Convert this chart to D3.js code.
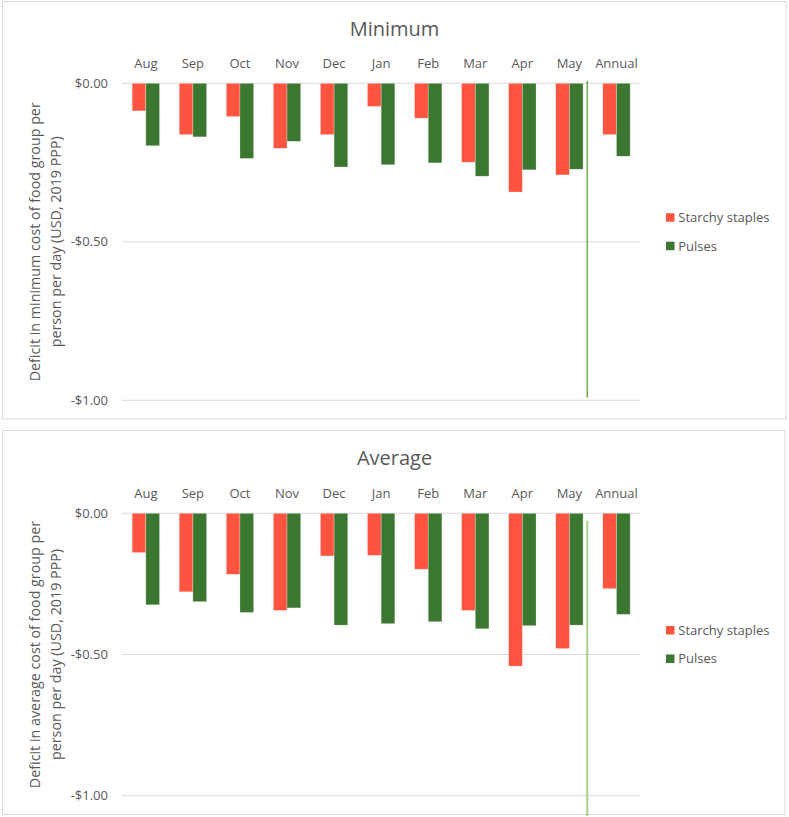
<!DOCTYPE html>
<html><head><meta charset="utf-8">
<script src="https://cdn.jsdelivr.net/npm/d3@7"></script>
<style>
body{margin:0;background:#fff;}
svg{display:block;font-family:"Open Sans",sans-serif;}
</style></head>
<body><svg id="c" width="789" height="817"></svg>
<script>
const months = ["Aug","Sep","Oct","Nov","Dec","Jan","Feb","Mar","Apr","May","Annual"];
const seriesNames = ["Starchy staples","Pulses"];
const minStarchy = [-0.087,-0.162,-0.105,-0.205,-0.162,-0.073,-0.110,-0.249,-0.343,-0.289,-0.162];
const minPulses  = [-0.197,-0.169,-0.237,-0.183,-0.264,-0.257,-0.251,-0.293,-0.273,-0.271,-0.230];
const avgStarchy = [-0.139,-0.278,-0.216,-0.344,-0.151,-0.149,-0.198,-0.344,-0.541,-0.479,-0.267];
const avgPulses  = [-0.324,-0.313,-0.351,-0.335,-0.396,-0.391,-0.384,-0.409,-0.398,-0.396,-0.358];
const yTicks = [0,-0.5,-1];
const separatorAfter = "May";

const colors = ["#FF5540","#3C7731"];
const textColor = "#595959";
const gridColor = "#D9D9D9";

const panels = [
  {title:"Minimum", yTitle:["Deficit in minimum cost of food group per","person per day (USD, 2019 PPP)"],
   data:[minStarchy,minPulses], box:[2.5,1.5,783.5,417.5], titleY:36, catY:68,
   y0:83.3, y1:400.3, legendY:217.5, sepTop:-2.3, sepBottom:397.7, sepColor:"#70AD47", sepW:1.5},
  {title:"Average", yTitle:["Deficit in average cost of food group per","person per day (USD, 2019 PPP)"],
   data:[avgStarchy,avgPulses], box:[2.5,430.5,782.5,384], titleY:465, catY:498,
   y0:513.3, y1:795.7, legendY:630.3, sepTop:7.4, sepBottom:816, sepColor:"#A9D18E", sepW:2}
];

const svg = d3.select("#c");
const fmt = v => (v<0?"-":"") + "$" + d3.format(".2f")(Math.abs(v));

panels.forEach(p => {
  const g = svg.append("g");
  g.append("rect").attr("x",p.box[0]).attr("y",p.box[1]).attr("width",p.box[2]).attr("height",p.box[3])
    .attr("fill","#fff").attr("stroke",gridColor).attr("stroke-width",1);

  const x = d3.scaleBand().domain(months).range([122.3,640]).paddingInner(0).paddingOuter(0);
  const y = d3.scaleLinear().domain([-1,0]).range([p.y1,p.y0]);
  const barW = x.step()*0.291;
  const off = (x.step()-2*barW)/2;

  g.selectAll(".grid").data(yTicks).enter().append("line")
    .attr("x1",x.range()[0]).attr("x2",x.range()[1])
    .attr("y1",d=>y(d)).attr("y2",d=>y(d))
    .attr("stroke",gridColor).attr("stroke-width",1);

  g.selectAll(".tl").data(yTicks).enter().append("text")
    .attr("x",108).attr("y",d=>y(d)).attr("dy","0.35em")
    .attr("text-anchor","end").attr("font-size",13).attr("fill",textColor)
    .text(fmt);

  g.selectAll(".cl").data(months).enter().append("text")
    .attr("x",d=>x(d)+x.step()/2).attr("y",p.catY)
    .attr("text-anchor","middle").attr("font-size",13).attr("fill",textColor)
    .text(d=>d);

  p.data.forEach((arr,si)=>{
    g.selectAll(".b"+si).data(arr).enter().append("rect")
      .attr("x",(d,i)=>x(months[i])+off+si*barW)
      .attr("y",y(0))
      .attr("width",barW)
      .attr("height",d=>y(d)-y(0))
      .attr("fill",colors[si])
      .attr("stroke","rgba(255,255,255,0.45)").attr("stroke-width",0.6);
  });

  const sx = x(months[months.indexOf(separatorAfter)+1]) - x.step()*0.12;
  g.append("line").attr("x1",sx).attr("x2",sx)
    .attr("y1",y(0)+p.sepTop).attr("y2",p.sepBottom)
    .attr("stroke",p.sepColor).attr("stroke-width",p.sepW);

  g.append("text").attr("x",394.5).attr("y",p.titleY).attr("text-anchor","middle")
    .attr("font-size",20).attr("fill",textColor).text(p.title);

  const cy = (p.y0+p.y1)/2;
  p.yTitle.forEach((t,i)=>{
    g.append("text").attr("transform",`translate(${40+i*20.5},${cy}) rotate(-90)`)
      .attr("text-anchor","middle").attr("font-size",14.3).attr("fill",textColor).text(t);
  });

  seriesNames.forEach((n,i)=>{
    const ly = p.legendY + i*28.5;
    g.append("rect").attr("x",666).attr("y",ly-4.3).attr("width",8.5).attr("height",8.5).attr("fill",colors[i]);
    g.append("text").attr("x",678.3).attr("y",ly).attr("dy","0.35em").attr("font-size",13)
      .attr("fill",textColor).text(n);
  });
});
</script></body></html>
